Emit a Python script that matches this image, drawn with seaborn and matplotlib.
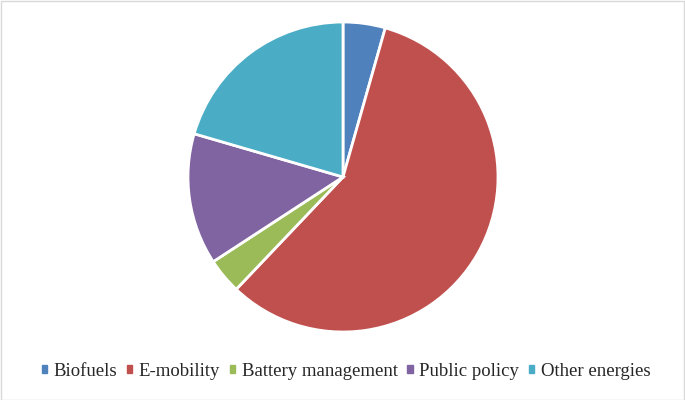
import matplotlib
matplotlib.use("Agg")
import matplotlib.pyplot as plt
import seaborn as sns
from matplotlib.patches import Rectangle

sns.set_theme(style="white")
plt.rcParams['font.family'] = ['Liberation Serif', 'DejaVu Serif']

categories = ["Biofuels", "E-mobility", "Battery management", "Public policy", "Other energies"]
values = [4.4, 57.7, 3.7, 13.7, 20.5]
colors = ["#4F81BD", "#C0504D", "#9BBB59", "#8064A2", "#4BACC6"]

fig = plt.figure(figsize=(6.85, 4.0), dpi=100)
W, H = 685, 400
cx, cy, r = 343, 177, 155
ax = fig.add_axes([(cx - r) / W, (H - cy - r) / H, 2 * r / W, 2 * r / H])
wedges, _ = ax.pie(values, colors=colors, startangle=90, counterclock=False,
                   radius=1.0, wedgeprops=dict(edgecolor="white", linewidth=2))
ax.set_xlim(-1, 1)
ax.set_ylim(-1, 1)
ax.set_aspect("equal")
ax.axis("off")

handles = [Rectangle((0, 0), 1, 1, color=c) for c in colors]
fig.legend(handles, categories, loc="center", bbox_to_anchor=(346 / W, 1 - 371 / H),
           ncol=5, frameon=False, fontsize=13.5, handlelength=0.3, handleheight=0.3,
           handletextpad=0.35, columnspacing=0.5)

fig.patches.append(Rectangle((0.5 / W, 0.5 / H), 1 - 1.5 / W, 1 - 1.5 / H, transform=fig.transFigure,
                             fill=False, edgecolor="#D9D9D9", linewidth=1))
fig.savefig("out.png", dpi=100)
